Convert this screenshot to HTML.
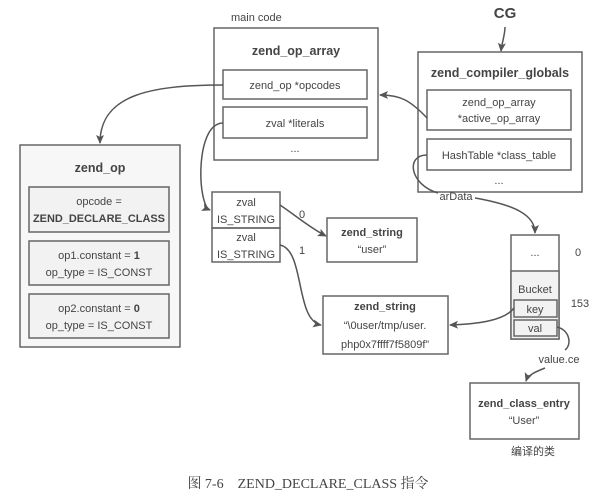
<!DOCTYPE html>
<html><head><meta charset="utf-8"><style>
body{margin:0;background:#fff;width:614px;height:498px;overflow:hidden}
svg text{font-family:"Liberation Sans","Noto Sans CJK SC",sans-serif;fill:#444;font-size:11px}
.b{font-weight:bold}
</style></head><body>
<svg width="614" height="498" viewBox="0 0 614 498" xmlns="http://www.w3.org/2000/svg">
<defs>
<marker id="a" markerWidth="10" markerHeight="10" refX="8" refY="5" orient="auto" markerUnits="userSpaceOnUse"><path d="M0,1 L9,5 L0,9 L2,5 Z" fill="#555"/></marker>
</defs>
<g fill="none" stroke="#666" stroke-width="1.5">
<rect x="214" y="28" width="164" height="132" fill="#fff"/>
<rect x="223" y="70" width="144" height="29"/>
<rect x="223" y="107" width="144" height="31"/>
<rect x="418" y="52" width="164" height="140"/>
<rect x="427" y="90" width="144" height="40"/>
<rect x="427" y="139" width="144" height="31"/>
<rect x="20" y="145" width="160" height="202" fill="#f7f7f7"/>
<rect x="29" y="187" width="140" height="45" fill="#f2f2f2"/>
<rect x="29" y="241" width="140" height="44" fill="#f2f2f2"/>
<rect x="29" y="294" width="140" height="44" fill="#f2f2f2"/>
<rect x="212" y="192" width="68" height="36"/>
<rect x="212" y="228" width="68" height="34"/>
<rect x="327" y="218" width="90" height="44"/>
<rect x="323" y="296" width="125" height="58"/>
<rect x="511" y="235" width="48" height="104" fill="#fff"/>
<rect x="511" y="271" width="48" height="68" fill="#f2f2f2"/>
<rect x="514" y="300" width="43" height="17"/>
<rect x="514" y="320" width="43" height="16"/>
<rect x="470" y="383" width="109" height="56"/>
</g>
<g fill="none" stroke="#555" stroke-width="1.5">
<path d="M505,27 C505,35 502,42 501,51" marker-end="url(#a)"/>
<path d="M223,85 C150,85 100,95 100,143" marker-end="url(#a)"/>
<path d="M223,123 C195,123 197,205 210,210" marker-end="url(#a)"/>
<path d="M427,118 C410,100 400,95 380,95" marker-end="url(#a)"/>
<path d="M427,155 C405,155 410,185 438,193"/>
<path d="M475,198 C515,205 535,215 535,233" marker-end="url(#a)"/>
<path d="M280,205 C295,215 310,228 326,236" marker-end="url(#a)"/>
<path d="M280,245 C305,250 295,320 321,325" marker-end="url(#a)"/>
<path d="M514,308 C505,320 480,324 450,325" marker-end="url(#a)"/>
<path d="M557,327 C570,330 572,345 565,350"/>
<path d="M545,368 C535,372 528,375 526,381" marker-end="url(#a)"/>
</g>
<g text-anchor="middle">
<text x="231" y="21" style="text-anchor:start">main code</text>
<text x="505" y="18" class="b" style="font-size:15px">CG</text>
<text x="296" y="55" class="b" style="font-size:12.5px">zend_op_array</text>
<text x="295" y="89">zend_op *opcodes</text>
<text x="295" y="127">zval *literals</text>
<text x="295" y="152">...</text>
<text x="500" y="77" class="b" style="font-size:12.5px">zend_compiler_globals</text>
<text x="499" y="106">zend_op_array</text>
<text x="499" y="122">*active_op_array</text>
<text x="499" y="159">HashTable *class_table</text>
<text x="499" y="184">...</text>
<text x="100" y="172" class="b" style="font-size:12.5px">zend_op</text>
<text x="99" y="205">opcode =</text>
<text x="99" y="222" class="b" textLength="132" lengthAdjust="spacingAndGlyphs">ZEND_DECLARE_CLASS</text>
<text x="99" y="259">op1.constant = <tspan class="b">1</tspan></text>
<text x="99" y="276">op_type = IS_CONST</text>
<text x="99" y="312">op2.constant = <tspan class="b">0</tspan></text>
<text x="99" y="329">op_type = IS_CONST</text>
<text x="246" y="206">zval</text>
<text x="246" y="223">IS_STRING</text>
<text x="246" y="241">zval</text>
<text x="246" y="258">IS_STRING</text>
<text x="302" y="218">0</text>
<text x="302" y="254">1</text>
<text x="372" y="236" class="b">zend_string</text>
<text x="372" y="253">“user”</text>
<text x="385" y="310" class="b">zend_string</text>
<text x="385" y="329">“\0user/tmp/user.</text>
<text x="385" y="348">php0x7ffff7f5809f”</text>
<text x="456" y="200">arData</text>
<text x="535" y="256">...</text>
<text x="535" y="293">Bucket</text>
<text x="535" y="313">key</text>
<text x="535" y="332">val</text>
<text x="578" y="256">0</text>
<text x="580" y="307">153</text>
<text x="559" y="363">value.ce</text>
<text x="524" y="407" class="b">zend_class_entry</text>
<text x="524" y="424">“User”</text>
<text x="533" y="455">编译的类</text>
<text x="308" y="488" style="font-family:'Liberation Serif','Noto Serif CJK SC',serif;font-size:14px">图 7-6　ZEND_DECLARE_CLASS 指令</text>
</g>
</svg>
</body></html>
